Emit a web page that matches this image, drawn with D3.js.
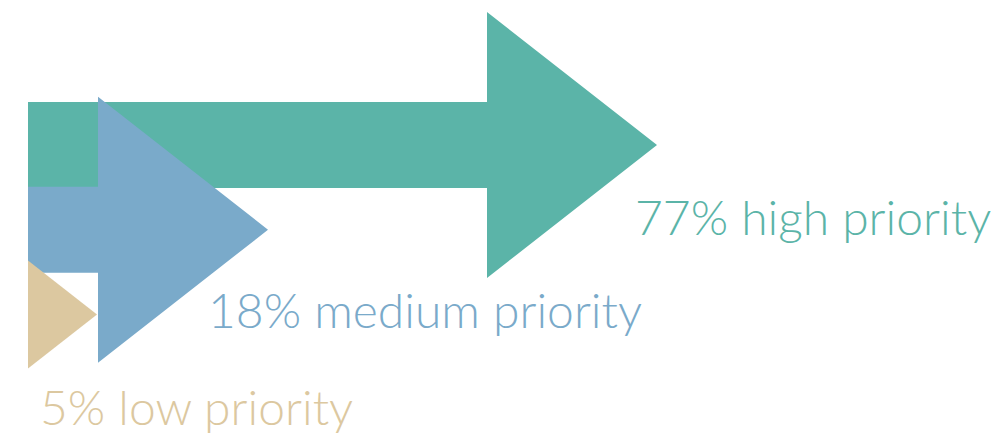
<!DOCTYPE html>
<html>
<head>
<meta charset="utf-8">
<script src="https://cdn.jsdelivr.net/npm/d3@7"></script>
<style>
    html, body { margin: 0; padding: 0; background: #fff; }
    svg { display: block; }
    .label { font-family: Lato, "Open Sans", sans-serif; font-weight: 300; }
</style>
</head>
<body>
<svg id="chart" width="997" height="433"></svg>
<script>
// data
const categories = ["high priority", "medium priority", "low priority"];
const shares = [77, 18, 5];
const colors = ["#5bb4a8", "#7aaaca", "#dcc8a0"];

const width = 997, height = 433;
const left = 28;
const headWidth = 170, headHalf = 133, shaftHalf = 43;

// arrow lengths in the original are not proportional to the share,
// so map through the shares with a piecewise scale
const lengthScale = d3.scaleLinear()
    .domain([0, 5, 18, 77])
    .range([0, 69, 240, 629]);

const yScale = d3.scalePoint()
    .domain(categories)
    .range([145, 314.5]);

// label placement relative to arrow tip
const labelDx = { "high priority": -22, "medium priority": -60, "low priority": -57 };
const labelDy = { "high priority": 90, "medium priority": 98, "low priority": 110 };

const rows = categories.map((c, i) => ({ name: c, value: shares[i], color: colors[i] }));

const svg = d3.select("#chart");

function arrowPath(d) {
    const len = lengthScale(d.value);
    const cy = yScale(d.name);
    const k = Math.min(1, len / headWidth);
    const hw = headWidth * k, hh = headHalf * k;
    const tip = left + len;
    const neck = tip - hw;
    const p = d3.path();
    if (neck > left) {
        p.moveTo(left, cy - shaftHalf);
        p.lineTo(neck, cy - shaftHalf);
        p.lineTo(neck, cy - hh);
        p.lineTo(tip, cy);
        p.lineTo(neck, cy + hh);
        p.lineTo(neck, cy + shaftHalf);
        p.lineTo(left, cy + shaftHalf);
    } else {
        p.moveTo(left, cy - hh);
        p.lineTo(tip, cy);
        p.lineTo(left, cy + hh);
    }
    p.closePath();
    return p.toString();
}

svg.selectAll(".arrow")
    .data(rows)
    .enter()
    .append("path")
    .attr("class", "arrow")
    .attr("d", arrowPath)
    .attr("fill", d => d.color);

svg.selectAll(".label")
    .data(rows)
    .enter()
    .append("text")
    .attr("class", "label")
    .attr("x", d => left + lengthScale(d.value) + labelDx[d.name])
    .attr("y", d => yScale(d.name) + labelDy[d.name])
    .attr("font-size", 48)
    .attr("fill", d => d.color)
    .text(d => `${d.value}% ${d.name}`);
</script>
</body>
</html>
